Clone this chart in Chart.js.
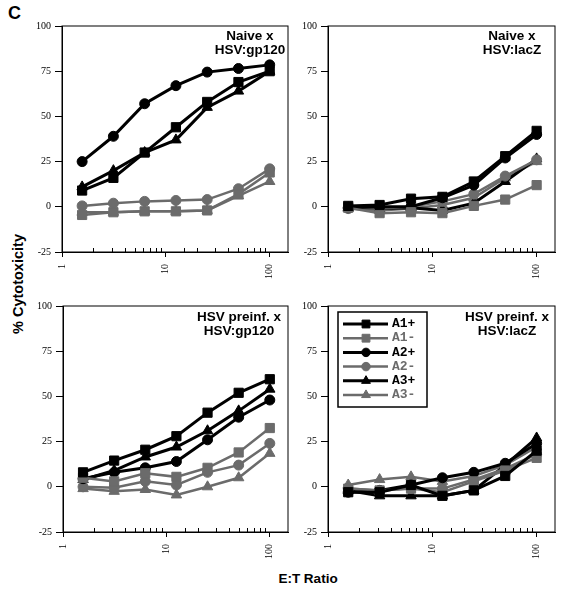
<!DOCTYPE html>
<html>
<head>
<meta charset="utf-8">
<script src="https://cdn.jsdelivr.net/npm/chart.js@4.4.1/dist/chart.umd.min.js"></script>
<style>
  body { margin: 0; background: #fff; width: 561px; height: 590px; position: relative; overflow: hidden; font-family: "Liberation Sans", Arial, sans-serif; }
  canvas { position: absolute; }
  .lbl { position: absolute; font-weight: bold; color: #000; white-space: nowrap; }
  .ptitle { position: absolute; font-weight: bold; font-size: 13.5px; line-height: 14px; text-align: center; transform: translateX(-50%); white-space: nowrap; }
</style>
</head>
<body>
<div class="lbl" style="left:8px; top:3px; font-size:18px">C</div>
<div class="lbl" style="left:18px; top:284px; font-size:14.5px; transform: translate(-50%, -50%) rotate(-90deg)">% Cytotoxicity</div>
<div class="lbl" style="left:308px; top:571px; font-size:13.5px; transform: translateX(-50%)">E:T Ratio</div>

<canvas id="naiveGp120" width="280" height="285" style="left:10px; top:16px"></canvas>
<canvas id="naiveLacZ" width="281" height="285" style="left:276px; top:16px"></canvas>
<canvas id="preinfGp120" width="279" height="285" style="left:11px; top:296px"></canvas>
<canvas id="preinfLacZ" width="281" height="285" style="left:276px; top:296px"></canvas>

<div class="ptitle" style="left:250px; top:29px">Naive x<br>HSV:gp120</div>
<div class="ptitle" style="left:512px; top:29px">Naive x<br>HSV:lacZ</div>
<div class="ptitle" style="left:239px; top:310px">HSV preinf. x<br>HSV:gp120</div>
<div class="ptitle" style="left:507px; top:310px">HSV preinf. x<br>HSV:lacZ</div>

<script>
// E:T ratios (x) and series names
const ratios = [1.5625, 3.125, 6.25, 12.5, 25, 50, 100]
const seriesLabels = ["A1+", "A1-", "A2+", "A2-", "A3+", "A3-"]
const xTickLabels = [1, 10, 100]
const yTickValues = [-25, 0, 25, 50, 75, 100]

// Naive x HSV:gp120
const naiveGp120A1p = [9, 16, 30, 44, 58, 69, 75]
const naiveGp120A1m = [-4.5, -3, -2.5, -2.5, -2, 7, 19]
const naiveGp120A2p = [25, 39, 57, 67, 74.5, 76.5, 78.5]
const naiveGp120A2m = [0.5, 2, 3, 3.5, 4, 10, 21]
const naiveGp120A3p = [11, 20, 30, 37, 55, 64, 75]
const naiveGp120A3m = [-3, -3, -2.5, -2.5, -2, 6, 14]

// Naive x HSV:lacZ
const naiveLacZA1p = [0.5, 1, 4.5, 5.5, 14, 28, 42]
const naiveLacZA1m = [-0.5, -3.5, -3, -3.5, 0.5, 4, 12]
const naiveLacZA2p = [-0.5, 0, 0, 5, 12, 27, 40]
const naiveLacZA2m = [-1, -1, 0, 3, 7, 17, 26]
const naiveLacZA3p = [-0.5, -1, -0.5, -2, 2, 14, 26.5]
const naiveLacZA3m = [-1, -2, -1, 1, 5, 16, 25]

// HSV preinf. x HSV:gp120
const preinfGp120A1p = [8, 14.5, 20.5, 28, 41, 52, 59.5]
const preinfGp120A1m = [5, 3, 7.5, 5.5, 10.5, 19, 32.5]
const preinfGp120A2p = [4.5, 8, 10.5, 14, 26, 38.5, 48]
const preinfGp120A2m = [0, -0.5, 3, 1, 8, 12, 24]
const preinfGp120A3p = [4, 9, 16.5, 22, 31, 42, 54]
const preinfGp120A3m = [-1, -2.5, -1.5, -4.5, 0, 5, 18.5]

// HSV preinf. x HSV:lacZ
const preinfLacZA1p = [-3, -3, 1, -5, -2, 6, 20]
const preinfLacZA1m = [-1, -2, -1, -3, 3, 9, 16]
const preinfLacZA2p = [-3, -2, 1, 5, 8, 13, 24]
const preinfLacZA2m = [-1, -2, -1, -1, 4, 10, 18]
const preinfLacZA3p = [-2, -5, -5, -5, -2, 12, 27]
const preinfLacZA3m = [1, 4, 5.5, 3, 6, 12, 22]

const seriesColors = ["#000000", "#6b6b6b", "#000000", "#6b6b6b", "#000000", "#6b6b6b"]
const seriesPoints = ["rect", "rect", "circle", "circle", "triangle", "triangle"]
const pointSizes = { rect: 6.5, circle: 5, triangle: 6 }

// box round the plot area + little inward minor ticks on the log axis
const framePlugin = {
  id: "frame",
  afterDraw(chart) {
    const ctx = chart.ctx
    const a = chart.chartArea
    const xs = chart.scales.x
    ctx.save()
    ctx.strokeStyle = "#000"
    ctx.lineWidth = 1
    ctx.strokeRect(a.left, a.top, a.right - a.left, a.bottom - a.top)
    ctx.beginPath()
    xs.ticks.forEach((t) => {
      if (t.value < 100 && !xTickLabels.includes(t.value)) {
        const px = Math.round(xs.getPixelForValue(t.value)) + 0.5
        ctx.moveTo(px, a.bottom)
        ctx.lineTo(px, a.bottom - 4)
      }
    })
    ctx.stroke()
    ctx.restore()
  },
}

// legend drawn inside the plot area (only on one panel)
const insideLegend = {
  id: "insideLegend",
  afterDatasetsDraw(chart, args, opts) {
    if (!opts.show) return
    const ctx = chart.ctx
    const a = chart.chartArea
    const x0 = a.left + 10
    const y0 = a.top + 6
    ctx.save()
    ctx.fillStyle = "#fff"
    ctx.fillRect(x0, y0, 89, 95)
    ctx.strokeStyle = "#000"
    ctx.lineWidth = 1.5
    ctx.strokeRect(x0, y0, 89, 95)
    chart.data.datasets.forEach((ds, i) => {
      const y = y0 + 12 + i * 14.2
      ctx.strokeStyle = ds.borderColor
      ctx.lineWidth = ds.borderWidth
      ctx.beginPath()
      ctx.moveTo(x0 + 5, y)
      ctx.lineTo(x0 + 50, y)
      ctx.stroke()
      ctx.fillStyle = ds.borderColor
      ctx.lineWidth = 1
      Chart.helpers.drawPoint(ctx, { pointStyle: ds.pointStyle, radius: ds.pointRadius * 0.85, borderWidth: 1, rotation: 0 }, x0 + 28, y)
      ctx.font = 'bold 13px "Liberation Mono", "Courier New", monospace'
      ctx.textBaseline = "middle"
      ctx.textAlign = "left"
      ctx.fillText(ds.label, x0 + 54, y)
    })
    ctx.restore()
  },
}

function noPadding(scale) {
  scale.paddingLeft = 0
  scale.paddingRight = 0
  scale.paddingTop = 0
  scale.paddingBottom = 0
}

function makePanel(canvasId, series, showLegend) {
  const datasets = series.map((values, i) => ({
    label: seriesLabels[i],
    data: ratios.map((r, j) => ({ x: r, y: values[j] })),
    borderColor: seriesColors[i],
    backgroundColor: seriesColors[i],
    pointBackgroundColor: seriesColors[i],
    pointBorderColor: seriesColors[i],
    borderWidth: seriesColors[i] === "#000000" ? 3 : 2.5,
    pointStyle: seriesPoints[i],
    pointRadius: pointSizes[seriesPoints[i]],
    pointBorderWidth: 1,
    tension: 0,
  }))

  return new Chart(document.getElementById(canvasId), {
    type: "line",
    data: { datasets: datasets },
    options: {
      responsive: false,
      animation: false,
      layout: { autoPadding: false, padding: { top: 10, right: 2, left: 0, bottom: 0 } },
      plugins: {
        legend: { display: false },
        tooltip: { enabled: false },
        insideLegend: { show: showLegend },
      },
      scales: {
        x: {
          type: "logarithmic",
          min: 1,
          max: 150,
          afterFit: (scale) => { scale.height = 49; noPadding(scale) },
          border: { display: true, color: "#000", width: 1 },
          grid: {
            drawOnChartArea: false,
            tickLength: 5,
            tickColor: (c) => (c.tick && xTickLabels.includes(c.tick.value) ? "#000" : "rgba(0,0,0,0)"),
          },
          ticks: {
            autoSkip: false,
            maxRotation: 90,
            minRotation: 90,
            padding: 7,
            color: "#000",
            font: { family: '"Liberation Serif", "Times New Roman", serif', size: 10 },
            callback: (value) => (xTickLabels.includes(value) ? String(value) : ""),
          },
        },
        y: {
          min: -25,
          max: 100,
          afterFit: (scale) => { scale.width = 52; noPadding(scale) },
          afterBuildTicks: (scale) => { scale.ticks = yTickValues.map((v) => ({ value: v })) },
          border: { display: true, color: "#000", width: 1 },
          grid: { drawOnChartArea: false, tickLength: 7, color: "#000" },
          ticks: {
            padding: 4,
            color: "#000",
            font: { family: '"Liberation Serif", "Times New Roman", serif', size: 10 },
          },
        },
      },
    },
    plugins: [framePlugin, insideLegend],
  })
}

makePanel("naiveGp120", [naiveGp120A1p, naiveGp120A1m, naiveGp120A2p, naiveGp120A2m, naiveGp120A3p, naiveGp120A3m], false)
makePanel("naiveLacZ", [naiveLacZA1p, naiveLacZA1m, naiveLacZA2p, naiveLacZA2m, naiveLacZA3p, naiveLacZA3m], false)
makePanel("preinfGp120", [preinfGp120A1p, preinfGp120A1m, preinfGp120A2p, preinfGp120A2m, preinfGp120A3p, preinfGp120A3m], false)
makePanel("preinfLacZ", [preinfLacZA1p, preinfLacZA1m, preinfLacZA2p, preinfLacZA2m, preinfLacZA3p, preinfLacZA3m], true)
</script>
</body>
</html>
